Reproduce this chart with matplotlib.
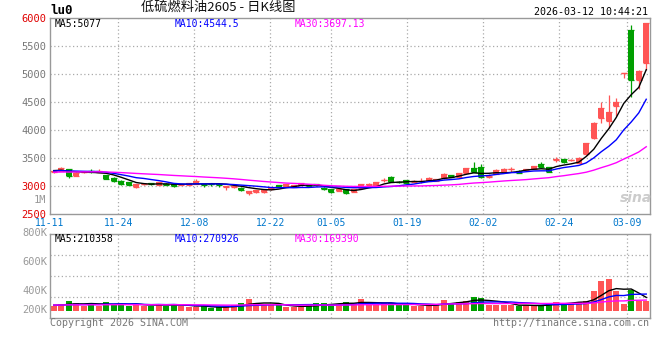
import matplotlib
matplotlib.use('Agg')
import matplotlib.pyplot as plt
import matplotlib.transforms as mtransforms
import numpy as np
import pandas as pd

plt.rcParams['font.family'] = ['DejaVu Sans Mono', 'Noto Sans CJK SC']

# ---------------- data ----------------
tick_labels = ["11-11", "11-24", "12-08", "12-22", "01-05", "01-19", "02-02", "02-24", "03-09"]
tick_index = [0, 9, 19, 29, 37, 47, 57, 67, 76]

opens = [3245, 3275, 3300, 3185, 3245, 3265, 3250, 3200, 3150, 3095,
         3075, 2990, 3030, 3045, 3020, 3040, 3035, 3020, 3020, 3040,
         3035, 3040, 3040, 2975, 2975, 2970, 2880, 2900, 2900, 2940,
         3015, 3000, 2990, 3020, 3015, 3030, 2970, 2940, 2915, 2940,
         2900, 2970, 3025, 3005, 3100, 3160, 3075, 3105, 3070, 3090,
         3095, 3090, 3150, 3196, 3160, 3232, 3327, 3340, 3165, 3214,
         3256, 3295, 3275, 3290, 3305, 3393, 3333, 3470, 3482, 3458,
         3417, 3566, 3863, 4220, 4161, 4435, 5020, 5786, 4887, 5203]
highs = [3280, 3345, 3305, 3245, 3260, 3300, 3300, 3205, 3155, 3100,
         3080, 3040, 3045, 3060, 3075, 3050, 3040, 3040, 3050, 3120,
         3040, 3050, 3050, 3005, 3010, 2975, 2915, 2935, 2935, 2975,
         3020, 3040, 3020, 3060, 3020, 3040, 2975, 2945, 2960, 2945,
         2945, 3040, 3060, 3070, 3150, 3185, 3095, 3110, 3100, 3137,
         3155, 3130, 3232, 3200, 3240, 3320, 3435, 3400, 3210, 3304,
         3320, 3333, 3285, 3310, 3362, 3435, 3340, 3512, 3490, 3480,
         3512, 3775, 4137, 4494, 4625, 4565, 5024, 5875, 5065, 5906]
lows = [3235, 3270, 3150, 3175, 3235, 3240, 3245, 3125, 3070, 3020,
        3010, 2970, 3020, 3020, 3010, 3010, 2980, 3010, 3015, 3035,
        2975, 3000, 2990, 2930, 2965, 2910, 2835, 2880, 2880, 2930,
        2985, 2995, 2985, 3015, 2985, 3000, 2935, 2880, 2905, 2850,
        2890, 2960, 3010, 3000, 3065, 3070, 3055, 3055, 3065, 3060,
        3090, 3085, 3125, 3155, 3155, 3225, 3244, 3150, 3140, 3208,
        3244, 3250, 3230, 3285, 3300, 3340, 3250, 3435, 3405, 3450,
        3410, 3560, 3839, 4119, 4042, 4256, 4923, 4595, 4726, 5065]
closes = [3265, 3325, 3170, 3235, 3250, 3250, 3270, 3130, 3085, 3040,
          3020, 3035, 3035, 3035, 3065, 3020, 3005, 3030, 3045, 3095,
          3010, 3030, 3025, 3000, 3000, 2920, 2910, 2930, 2925, 2970,
          2990, 3035, 3015, 3045, 2995, 3010, 2940, 2890, 2955, 2870,
          2940, 3035, 3030, 3065, 3107, 3077, 3065, 3060, 3095, 3095,
          3150, 3125, 3214, 3160, 3232, 3315, 3256, 3160, 3170, 3286,
          3298, 3300, 3240, 3298, 3357, 3345, 3256, 3478, 3435, 3465,
          3494, 3768, 4119, 4399, 4327, 4506, 5024, 4900, 5048, 5906]
volumes = [83000, 109000, 156000, 125000, 83000, 109000, 84000, 140000, 110000, 108000,
           82000, 111000, 84000, 83000, 109000, 82000, 110000, 84000, 58000, 57000,
           83000, 47000, 58000, 57000, 94000, 125000, 187000, 124000, 93000, 95000,
           94000, 57000, 58000, 57000, 109000, 126000, 125000, 94000, 109000, 146000,
           130000, 187000, 93000, 94000, 130000, 131000, 94000, 93000, 78000, 77000,
           94000, 109000, 172000, 130000, 146000, 156000, 219000, 206000, 94000, 93000,
           94000, 95000, 78000, 94000, 77000, 78000, 130000, 146000, 129000, 131000,
           146000, 156000, 312000, 468000, 499000, 312000, 109000, 327000, 156000, 157000]

# closes / volumes before the visible window (only used for the moving averages)
hist_close = [3180, 3205, 3190, 3220, 3240, 3215, 3250, 3230, 3210, 3245,
              3265, 3240, 3225, 3250, 3270, 3245, 3230, 3255, 3280, 3260,
              3240, 3235, 3260, 3285, 3270, 3290, 3265, 3280, 3275]
hist_volume = [88000, 95000, 102000, 90000, 84000, 97000, 110000, 92000, 86000, 99000,
               104000, 91000, 87000, 96000, 101000, 89000, 93000, 98000, 85000, 90000,
               94000, 88000, 100000, 92000, 87000, 95000, 89000, 91000, 86000]

price_ma_text = ["MA5:5077", "MA10:4544.5", "MA30:3697.13"]
vol_ma_text = ["MA5:210358", "MA10:270926", "MA30:169390"]
price_axis_labels = ["2500", "3000", "3500", "4000", "4500", "5000", "5500", "6000"]
vol_axis_labels = ["800K", "600K", "400K", "200K"]
title_text = "低硫燃料油2605 - 日K线图"
code_text = "lu0"
time_text = "2026-03-12 10:44:21"

# ---------------- styling ----------------
RED = '#FF5555'
GREEN = '#009F00'
MA_COLORS = ['#000000', '#0000FF', '#FF00FF']
GRID = '#AAAAAA'
BORDER = '#999999'
XLAB = '#0077CC'

W, H = 660, 360
fig = plt.figure(figsize=(W / 100, H / 100), dpi=100)
fig.patch.set_facecolor('white')


def px_rect(l, t, r, b):
    return [l / W, 1 - b / H, (r - l) / W, (b - t) / H]


ax = fig.add_axes(px_rect(50, 18, 650, 214))
axv = fig.add_axes(px_rect(50, 234, 650, 318))

n = len(closes)
x = np.arange(n)
o = np.array(opens, float)
h = np.array(highs, float)
l = np.array(lows, float)
c = np.array(closes, float)
v = np.array(volumes, float)
up = c >= o
cols = np.where(up, RED, GREEN)

# moving averages
full_c = pd.Series(hist_close + closes, dtype=float)
full_v = pd.Series(hist_volume + volumes, dtype=float)
ma_p = [full_c.rolling(k).mean().values[-n:] for k in (5, 10, 30)]
ma_v = [full_v.rolling(k).mean().values[-n:] for k in (5, 10, 30)]

# label / grid positions (labels are spread over n-1 steps across the panel)
grid_pos = [i * n / (n - 1) - 0.5 for i in tick_index]

for a in (ax, axv):
    a.set_xlim(-0.5, n - 0.5)
    for s in a.spines.values():
        s.set_color(BORDER)
        s.set_linewidth(1)
    for gp in grid_pos[1:]:
        a.axvline(gp, color=GRID, lw=0.9, ls=(0, (1, 2)), zorder=0)

# ---- price panel ----
ax.set_ylim(2500, 6000)
for yv in (3000, 3500, 4000, 4500, 5000, 5500):
    ax.axhline(yv, color=GRID, lw=0.9, ls=(0, (1, 2)), zorder=0)

ax.vlines(x, l, h, colors=cols, lw=0.9, zorder=2)
ax.bar(x, np.abs(c - o), bottom=np.minimum(o, c), width=0.8, color=cols,
       linewidth=0, zorder=3)
ax.hlines(c, x - 0.4, x + 0.4, colors=cols, lw=0.9, zorder=3)
ax.hlines(o, x - 0.4, x + 0.4, colors=cols, lw=0.9, zorder=3)
for m, col in zip(ma_p, MA_COLORS):
    ax.plot(x, m, color=col, lw=1.0, zorder=4)

ax.set_yticks([2500, 3000, 3500, 4000, 4500, 5000, 5500, 6000])
ax.set_yticklabels(price_axis_labels, fontsize=7.5)
lab_cols = ['#E00000', '#E00000', '#777777', '#777777', '#777777', '#777777', '#777777', '#E00000']
shifts = [3.5, 2, 2, 2, 2, 2, 2, 2]
for t, colr, sh in zip(ax.get_yticklabels(), lab_cols, shifts):
    t.set_color(colr)
    t.set_transform(t.get_transform() + mtransforms.ScaledTranslation(0, sh / 100, fig.dpi_scale_trans))
ax.tick_params(axis='y', length=0, pad=2.5)
ax.text(-0.006, 2750, "1M", transform=mtransforms.blended_transform_factory(ax.transAxes, ax.transData),
        ha='right', va='center', fontsize=7.5, color='#999999')

ax.set_xticks(grid_pos)
ax.set_xticklabels(tick_labels, fontsize=7, color=XLAB)
ax.tick_params(axis='x', length=0, pad=3)

for txt, col, xp in zip(price_ma_text, MA_COLORS, (55, 175, 295)):
    fig.text(xp / W, 1 - 24 / H, txt, color=col, fontsize=7, ha='left', va='center')

fig.text(636 / W, 1 - 198 / H, "sina", color='#CCCCCC', fontsize=10,
         fontweight='bold', style='italic', ha='center', va='center',
         family='DejaVu Sans')

# ---- volume panel ----
vol_per_px = 15600.0
axv.set_ylim(-7 * vol_per_px, 77 * vol_per_px)
axv.bar(x, v, width=0.8, color=cols, linewidth=0, zorder=2)
for m, col in zip(ma_v, MA_COLORS):
    axv.plot(x, m, color=col, lw=1.0, zorder=3)
for fr in (0.25, 0.5, 0.75):
    axv.axhline(axv.get_ylim()[0] + fr * (axv.get_ylim()[1] - axv.get_ylim()[0]),
                color=GRID, lw=0.9, ls=(0, (1, 2)), zorder=0)
axv.set_xticks([])
axv.set_yticks([])

for txt, col, xp in zip(vol_ma_text, MA_COLORS, (55, 175, 295)):
    fig.text(xp / W, 1 - 238.5 / H, txt, color=col, fontsize=7, ha='left', va='center')

for txt, yp in zip(vol_axis_labels, (232.5, 262, 291, 310)):
    fig.text(47 / W, 1 - yp / H, txt, color='#999999', fontsize=7.5, ha='right', va='center')

# ---- header / footer ----
fig.text(50 / W, 1 - 11 / H, code_text, fontsize=9, fontweight='bold', color='black',
         ha='left', va='center')
fig.text(218 / W, 1 - 8.5 / H, title_text, fontsize=9.5, color='#111111', ha='center',
         va='center', family=['Noto Sans CJK SC', 'DejaVu Sans'])
fig.text(648 / W, 1 - 12 / H, time_text, fontsize=7.2, color='black', ha='right', va='center')
fig.text(50 / W, 1 - 323.5 / H, "Copyright 2026 SINA.COM", fontsize=7.2, color='#777777',
         ha='left', va='center')
fig.text(649 / W, 1 - 323.5 / H, "http://finance.sina.com.cn", fontsize=7.2, color='#777777',
         ha='right', va='center')

fig.savefig('out.png', dpi=100, facecolor='white')
